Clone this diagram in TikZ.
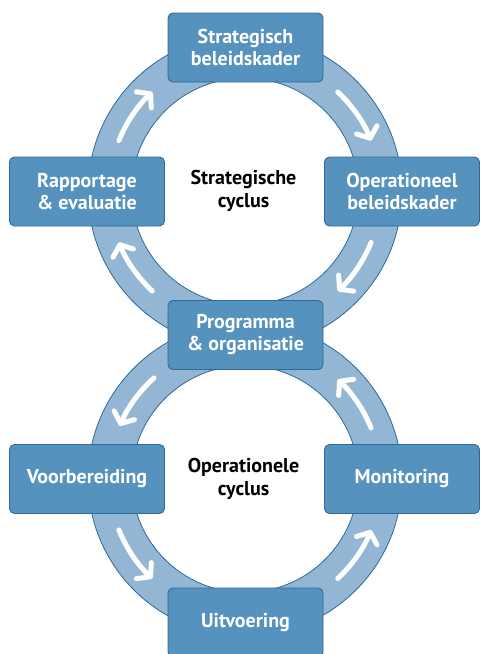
\documentclass[tikz,border=0pt]{standalone}
\usepackage{fontspec}
\setmainfont{PT Sans}
\usetikzlibrary{arrows.meta}
\definecolor{ringfill}{HTML}{94B6D5}
\definecolor{ringline}{HTML}{2C6A9A}
\definecolor{boxfill}{HTML}{5592BE}
\definecolor{boxline}{HTML}{2D6A97}
\tikzset{
  box/.style={draw=boxline, fill=boxfill, line width=0.9pt, rounded corners=5pt,
    minimum width=155pt, minimum height=69pt, inner sep=0pt, text=white,
    align=center, font=\fontsize{20}{22}\selectfont\bfseries},
  centertext/.style={align=center, text=black, inner sep=0pt,
    font=\fontsize{20}{23}\selectfont\bfseries},
  ring/.style={fill=ringfill, draw=ringline, line width=0.8pt, even odd rule},
  flow/.style={draw=white, line width=5pt, line cap=round, line join=round,
    -{Straight Barb[length=9pt,width=22pt,round]}},
}
\begin{document}
\begin{tikzpicture}[x=1pt,y=1pt]
\useasboundingbox (0,0) rectangle (480,-654);
\coordinate (uc) at (245,-191.5);
\coordinate (lc) at (245,-479);
% rings
\path[ring] (uc) circle[radius=157] (uc) circle[radius=113.5];
\path[ring] (lc) circle[radius=157] (lc) circle[radius=113.5];
% arrows, upper ring (clockwise)
\draw[flow] ([shift={(158:136)}]uc) arc[start angle=158, end angle=133, radius=136];
\draw[flow] ([shift={(47:136)}]uc) arc[start angle=47, end angle=22, radius=136];
\draw[flow] ([shift={(-22:136)}]uc) arc[start angle=-22, end angle=-47, radius=136];
\draw[flow] ([shift={(-133:136)}]uc) arc[start angle=-133, end angle=-158, radius=136];
% arrows, lower ring (counter-clockwise)
\draw[flow] ([shift={(132:136)}]lc) arc[start angle=132, end angle=157, radius=136];
\draw[flow] ([shift={(-158:136)}]lc) arc[start angle=-158, end angle=-133, radius=136];
\draw[flow] ([shift={(-47:136)}]lc) arc[start angle=-47, end angle=-22, radius=136];
\draw[flow] ([shift={(22:136)}]lc) arc[start angle=22, end angle=47, radius=136];
% boxes
\node[box] (sb) at (245.5,-47.5) {Strategisch\\beleidskader};
\node[box] (re) at (87,-191.5) {Rapportage\\\& evaluatie};
\node[box] (ob) at (402,-191.5) {Operationeel\\beleidskader};
\node[box] (po) at (245.5,-335) {Programma\\\& organisatie};
\node[box] (vb) at (87,-479) {Voorbereiding};
\node[box] (mo) at (402,-479) {Monitoring};
\node[box] (ui) at (245.5,-622.5) {Uitvoering};
% centre labels
\node[centertext] (sc) at (243.5,-191) {Strategische\\cyclus};
\node[centertext] (oc) at (243.5,-479) {Operationele\\cyclus};
\end{tikzpicture}
\end{document}
